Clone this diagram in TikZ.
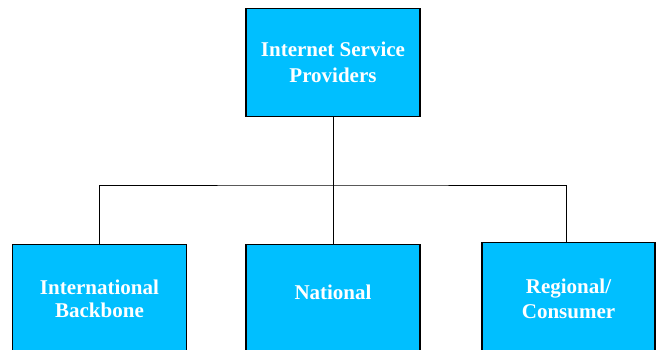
\documentclass[tikz,border=0pt]{standalone}
\usepackage{fontspec}
\setmainfont{Liberation Serif}
\definecolor{boxblue}{HTML}{00BFFF}
\begin{document}
\begin{tikzpicture}[x=1pt,y=-1pt,
  unit/.style={draw=black, line width=1.1pt, fill=boxblue, anchor=north,
    minimum width=174pt, minimum height=120pt, inner sep=0pt},
  caption/.style={text=white, font=\bfseries\fontsize{21}{25}\selectfont,
    align=center, inner sep=0pt},
  link/.style={draw=black, line width=1pt}]
\clip (0,0) rectangle (658,349);
% provider category boxes (the lower row runs past the bottom edge)
\node[unit, minimum height=108pt] (isp) at (333,8) {};
\node[unit] (intl) at (99.5,244) {};
\node[unit] (nat)  at (333,244) {};
\node[unit, minimum width=173pt] (reg) at (568.5,241.7) {};
% box captions
\node[caption, font=\bfseries\fontsize{21}{26}\selectfont] (isp-t) at (333,62.5) {Internet Service\\Providers};
\node[caption, font=\bfseries\fontsize{21}{23.5}\selectfont] (intl-t) at (99.5,299) {International\\Backbone};
\node[caption] (nat-t) at (333,292.5) {National};
\node[caption] (reg-t) at (568.5,299) {Regional/\\Consumer};
% tree connectors
\coordinate (bus) at (333,185);
\draw[link] (isp.south) -- (nat.north);
\draw[link] (intl.north) |- (bus) -| ([xshift=-2.5pt]reg.north);
\end{tikzpicture}
\end{document}
